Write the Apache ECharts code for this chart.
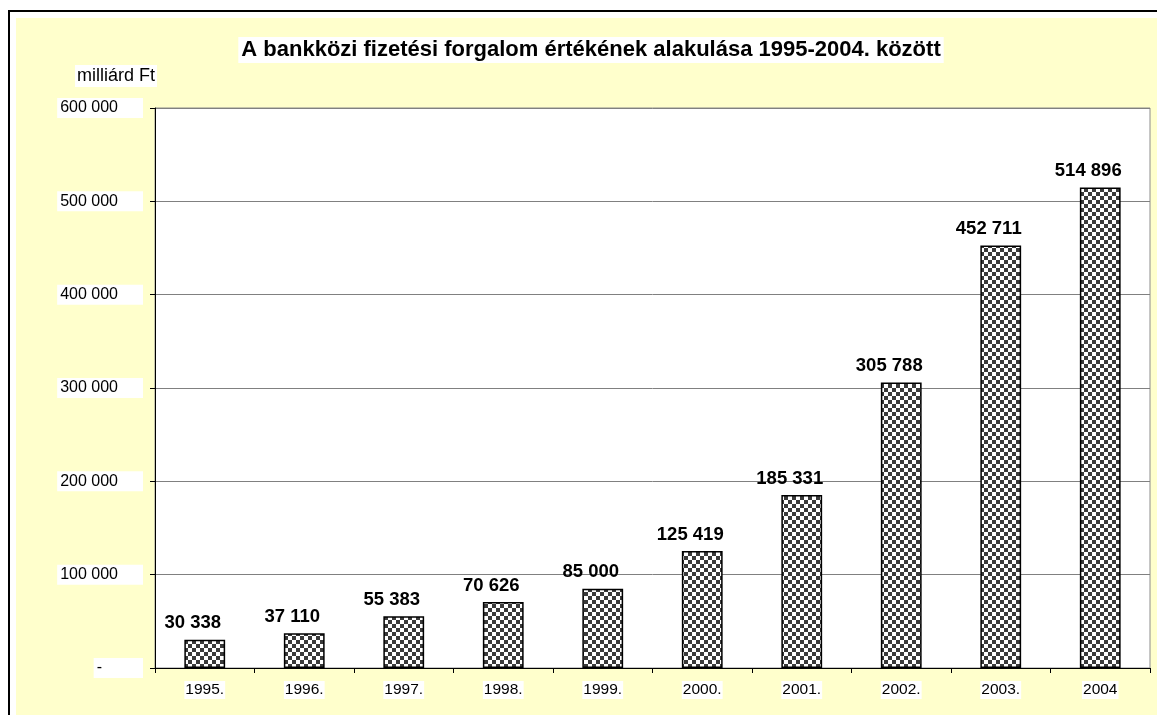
<!DOCTYPE html>
<html>
<head>
<meta charset="utf-8">
<title>Bankközi fizetési forgalom</title>
<script src="https://cdn.jsdelivr.net/npm/echarts@6/dist/echarts.min.js"></script>
<style>
  html, body { margin: 0; padding: 0; background: #fff; overflow: hidden; }
  #chart { width: 1157px; height: 715px; }
</style>
</head>
<body>
<div id="chart"></div>
<script>
  // data
  var years = ['1995.', '1996.', '1997.', '1998.', '1999.', '2000.', '2001.', '2002.', '2003.', '2004'];
  var values = [30338, 37110, 55383, 70626, 85000, 125419, 185331, 305788, 452711, 514896];
  var yTicks = [0, 100000, 200000, 300000, 400000, 500000, 600000];

  // thousands with a space, zero drawn as a dash (Excel style)
  function fmt(v) {
    if (v === 0) return '-';
    return String(v).replace(/\B(?=(\d{3})+(?!\d))/g, ' ');
  }

  // checkerboard fill for the bars
  function checker() {
    var c = document.createElement('canvas');
    c.width = 8; c.height = 8;
    var ctx = c.getContext('2d');
    ctx.fillStyle = '#fff';
    ctx.fillRect(0, 0, 8, 8);
    ctx.fillStyle = '#3a3a3a';
    ctx.fillRect(0, 0, 4, 4);
    ctx.fillRect(4, 4, 4, 4);
    return c;
  }

  var font = '"Liberation Sans", Arial, sans-serif';
  var chart = echarts.init(document.getElementById('chart'), null, {renderer: 'canvas'});
  chart.setOption({
    backgroundColor: '#fff',
    animation: false,
    graphic: [
      {
        type: 'rect', z: -9,
        shape: {x: 16, y: 18, width: 1200, height: 760},
        style: {fill: '#ffffcc'}
      },
      {
        type: 'polyline', z: -8,
        shape: {points: [[9, 715], [9, 11], [1157, 11]]},
        style: {fill: null, stroke: '#000', lineWidth: 2}
      }
    ],
    title: [
      {
        text: 'A bankközi fizetési forgalom értékének alakulása 1995-2004. között',
        left: 588, top: 37, textAlign: 'center',
        padding: [2, 3],
        backgroundColor: '#fff',
        textStyle: {fontFamily: font, fontSize: 22, fontWeight: 'bold', color: '#000'}
      },
      {
        text: 'milliárd Ft',
        left: 75, top: 65,
        padding: [2, 2],
        backgroundColor: '#fff',
        textStyle: {fontFamily: font, fontSize: 18, fontWeight: 'normal', color: '#000'}
      }
    ],
    grid: {
      left: 155, top: 108, right: 7, bottom: 47,
      show: true,
      backgroundColor: '#fff',
      borderColor: '#8c8c8c',
      borderWidth: 1
    },
    xAxis: {
      type: 'category',
      data: years,
      boundaryGap: true,
      axisLine: {lineStyle: {color: '#000', width: 1}},
      axisTick: {show: true, length: 5, alignWithLabel: false, lineStyle: {color: '#000'}},
      axisLabel: {
        fontFamily: font, fontSize: 15.5, color: '#000', margin: 13,
        backgroundColor: '#fff', padding: [1, 1]
      }
    },
    yAxis: {
      type: 'value',
      min: yTicks[0], max: yTicks[yTicks.length - 1], interval: 100000,
      axisLine: {show: true, lineStyle: {color: '#000', width: 1}},
      axisTick: {show: true, length: 5, lineStyle: {color: '#000'}},
      splitLine: {lineStyle: {color: '#808080', width: 1}},
      axisLabel: {
        fontFamily: font, fontSize: 16, color: '#000', margin: 12,
        formatter: function (v) {
          return v === 0 ? '{z|-}' : fmt(v);
        },
        rich: {
          z: {fontFamily: font, fontSize: 16, color: '#000', padding: [0, 16, 0, 0]}
        },
        backgroundColor: '#fff', padding: [2, 25, 2, 3]
      }
    },
    series: [{
      type: 'bar',
      data: values,
      barWidth: '41%',
      itemStyle: {
        color: {image: checker(), repeat: 'repeat'},
        borderColor: '#000',
        borderWidth: 1.5
      },
      label: {
        show: true,
        position: 'top',
        distance: 7,
        offset: [-12, 0],
        fontFamily: font, fontSize: 18.5, fontWeight: 'bold', color: '#000',
        formatter: function (p) { return fmt(p.value); }
      }
    }]
  });
</script>
</body>
</html>
